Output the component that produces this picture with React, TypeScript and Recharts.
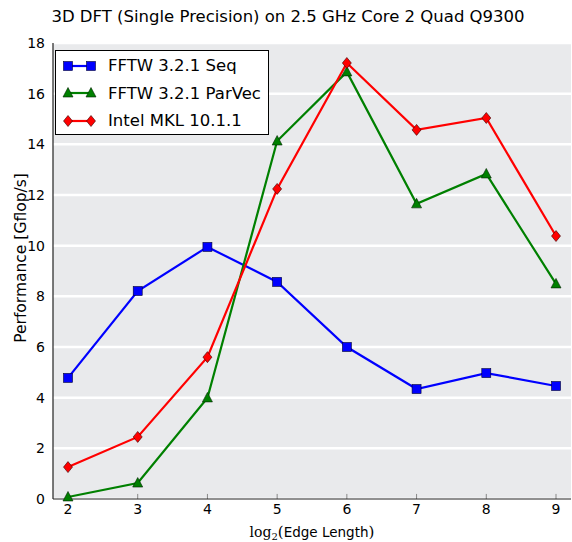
import React from "react";
import { LineChart, Line, XAxis, YAxis, CartesianGrid, ReferenceLine } from "recharts";

const edgeLog2 = [2, 3, 4, 5, 6, 7, 8, 9];
const fftwSeq = [4.78, 8.21, 9.95, 8.57, 6.0, 4.34, 4.97, 4.46];
const fftwParVec = [0.08, 0.63, 3.99, 14.13, 16.86, 11.65, 12.83, 8.49];
const intelMkl = [1.26, 2.45, 5.6, 12.24, 17.21, 14.57, 15.04, 10.38];
const yTicks = [0, 2, 4, 6, 8, 10, 12, 14, 16, 18];
const xTicks = [2, 3, 4, 5, 6, 7, 8, 9];

const title = "3D DFT (Single Precision) on 2.5 GHz Core 2 Quad Q9300";
const seriesNames = ["FFTW 3.2.1 Seq", "FFTW 3.2.1 ParVec", "Intel MKL 10.1.1"];

const data = edgeLog2.map((x, i) => ({
  x,
  seq: fftwSeq[i],
  par: fftwParVec[i],
  mkl: intelMkl[i],
}));

const FONT = "'DejaVu Sans', sans-serif";
const SERIF = "'DejaVu Serif', serif";

const Square = (props: any) => {
  const { cx, cy, key } = props;
  if (cx == null || cy == null) return null;
  return <rect key={key} x={cx - 4.5} y={cy - 4.5} width={9} height={9} fill="#0000ff" stroke="#000033" strokeWidth={0.6} />;
};
const Triangle = (props: any) => {
  const { cx, cy, key } = props;
  if (cx == null || cy == null) return null;
  return (
    <polygon
      key={key}
      points={`${cx},${cy - 5.5} ${cx - 5},${cy + 4} ${cx + 5},${cy + 4}`}
      fill="#008000"
      stroke="#002200"
      strokeWidth={0.6}
    />
  );
};
const Diamond = (props: any) => {
  const { cx, cy, key } = props;
  if (cx == null || cy == null) return null;
  return (
    <polygon
      key={key}
      points={`${cx},${cy - 5.5} ${cx + 4.5},${cy} ${cx},${cy + 5.5} ${cx - 4.5},${cy}`}
      fill="#ff0000"
      stroke="#330000"
      strokeWidth={0.6}
    />
  );
};

const legendItems = [
  { name: seriesNames[0], color: "#0000ff", shape: "square" },
  { name: seriesNames[1], color: "#008000", shape: "triangle" },
  { name: seriesNames[2], color: "#ff0000", shape: "diamond" },
];

const LegendBox = () => (
  <div
    style={{
      position: "absolute",
      left: 55,
      top: 50,
      background: "#ffffff",
      border: "1px solid #000",
      width: 214,
      height: 85,
      boxSizing: "border-box",
      fontFamily: FONT,
      fontSize: 16.5,
      paddingTop: 1,
      zIndex: 5,
    }}
  >
    {legendItems.map((it) => (
      <div key={it.name} style={{ display: "flex", alignItems: "center", height: 27.5 }}>
        <svg width={52} height={20} style={{ flex: "none" }}>
          <line x1={12} y1={10} x2={35} y2={10} stroke={it.color} strokeWidth={2.2} />
          {it.shape === "square" && (
            <>
              <Square cx={12} cy={10} />
              <Square cx={35} cy={10} />
            </>
          )}
          {it.shape === "triangle" && (
            <>
              <Triangle cx={12} cy={10} />
              <Triangle cx={35} cy={10} />
            </>
          )}
          {it.shape === "diamond" && (
            <>
              <Diamond cx={12} cy={10} />
              <Diamond cx={35} cy={10} />
            </>
          )}
        </svg>
        <span>{it.name}</span>
      </div>
    ))}
  </div>
);

const XLabel = () => {
  return (
    <text x={312} y={537} textAnchor="middle" fontSize={14} fill="#000">
      <tspan fontFamily={SERIF}>log</tspan>
      <tspan fontFamily={SERIF} fontSize={10} dy={3}>2</tspan>
      <tspan fontFamily={SERIF} dy={-3} fontSize={15}>(</tspan>
      <tspan fontFamily={FONT} fontSize={13.5}>Edge Length</tspan>
      <tspan fontFamily={SERIF} fontSize={15}>)</tspan>
    </text>
  );
};

const YLabel = () => (
  <text
    x={21}
    y={258}
    transform="rotate(-90, 21, 258)"
    textAnchor="middle"
    dominantBaseline="central"
    fontFamily={FONT}
    fontSize={15.5}
    fill="#000"
  >
    Performance [Gflop/s]
  </text>
);

export default function App() {
  return (
    <div style={{ position: "absolute", left: 0, top: 0, width: 572, height: 542, background: "#fff" }}>
      <div
        style={{
          position: "absolute",
          left: 0,
          top: 7,
          width: 576,
          textAlign: "center",
          fontFamily: FONT,
          fontSize: 16.5,
          lineHeight: "19px",
          color: "#000",
        }}
      >
        {title}
      </div>
      <LineChart
        width={572}
        height={542}
        data={data}
        margin={{ top: 43, right: 1, bottom: 0, left: 0 }}
      >
        <CartesianGrid vertical={false} stroke="#ffffff" strokeWidth={2.5} fill="#e9eaec" horizontalValues={yTicks} />
        <XAxis
          dataKey="x"
          type="number"
          domain={[1.785, 9.215]}
          ticks={xTicks}
          height={43}
          tickLine={false}
          tickSize={0}
          axisLine={{ stroke: "#222", strokeWidth: 1.2 }}
          tick={{ fontFamily: FONT, fontSize: 14, fill: "#000" }}
          tickMargin={5}
          label={<XLabel />}
        />
        <XAxis xAxisId="top" dataKey="x" type="number" domain={[1.785, 9.215]} orientation="top" height={0} tick={false} tickLine={false} axisLine={{ stroke: "#222", strokeWidth: 1.2 }} />
        <YAxis
          domain={[0, 18]}
          ticks={yTicks}
          width={53}
          tickLine={false}
          tickSize={0}
          axisLine={{ stroke: "#222", strokeWidth: 1.2 }}
          tick={{ fontFamily: FONT, fontSize: 14, fill: "#000" }}
          tickMargin={8}
          label={<YLabel />}
        />
        <YAxis yAxisId="right" orientation="right" domain={[0, 18]} width={0} tick={false} tickLine={false} axisLine={{ stroke: "#777", strokeWidth: 1.2 }} />
        {xTicks.map((t) => (
          <ReferenceLine key={"xb" + t} segment={[{ x: t, y: 0 }, { x: t, y: 0.2 }]} stroke="#888" strokeWidth={1} />
        ))}
        <Line dataKey="seq" stroke="#0000ff" strokeWidth={2.2} dot={Square} isAnimationActive={false} />
        <Line dataKey="par" stroke="#008000" strokeWidth={2.2} dot={Triangle} isAnimationActive={false} />
        <Line dataKey="mkl" stroke="#ff0000" strokeWidth={2.2} dot={Diamond} isAnimationActive={false} />
      </LineChart>
      <LegendBox />
    </div>
  );
}
